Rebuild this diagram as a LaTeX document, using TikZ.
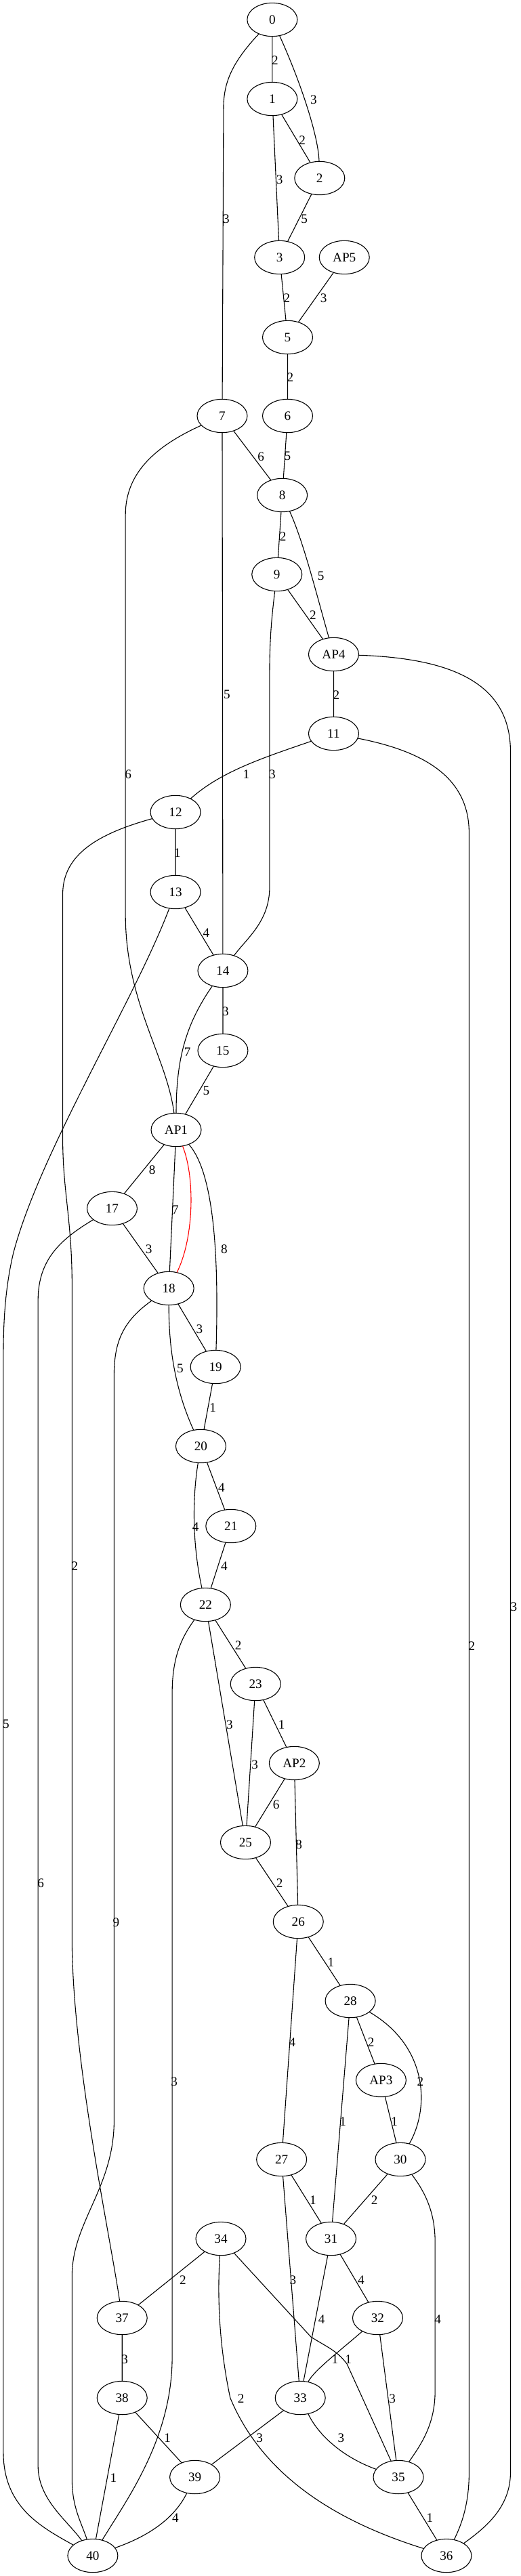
\documentclass[tikz,border=0pt]{standalone}
\usepackage{fontspec}
\setmainfont{Liberation Serif}
\usetikzlibrary{shapes.geometric}

\begin{document}
\begin{tikzpicture}[x=0.719pt, y=-0.73pt, line join=round, line cap=round,
  station/.style={ellipse, draw, line width=0.8pt, minimum width=54pt, minimum height=36pt, inner sep=0pt, font=\fontsize{14}{14}\selectfont},
  link/.style={line width=0.8pt},
  wt/.style={inner sep=0pt, font=\fontsize{14}{14}\selectfont}]
  % ========================================================
  % 0. CANVAS (same size as the original render)
  % ========================================================
  \useasboundingbox (0,0) rectangle (780.7,3803);
  \fill[white] (0,0) rectangle (780.7,3803);

  % ========================================================
  % 1. STATIONS (one row per rank)
  % ========================================================
  \node[station] (n0)   at (408,29)   {0};
  \node[station] (n1)   at (408,146)  {1};
  \node[station] (n2)   at (479,263)  {2};
  \node[station] (n3)   at (419,380)  {3};
  \node[station] (nAP5) at (516,380)  {AP5};
  \node[station] (n5)   at (431,498)  {5};
  \node[station] (n7)   at (333,614)  {7};
  \node[station] (n6)   at (431,614)  {6};
  \node[station] (n8)   at (423,731)  {8};
  \node[station] (n9)   at (415,848)  {9};
  \node[station] (nAP4) at (500,966)  {AP4};
  \node[station] (n11)  at (500,1083) {11};
  \node[station] (n12)  at (263,1199) {12};
  \node[station] (n13)  at (263,1317) {13};
  \node[station] (n14)  at (334,1433) {14};
  \node[station] (n15)  at (334,1551) {15};
  \node[station] (nAP1) at (264,1668) {AP1};
  \node[station] (n17)  at (168,1784) {17};
  \node[station] (n18)  at (253,1902) {18};
  \node[station] (n19)  at (323,2018) {19};
  \node[station] (n20)  at (301,2135) {20};
  \node[station] (n21)  at (346,2253) {21};
  \node[station] (n22)  at (308,2369) {22};
  \node[station] (n23)  at (383,2486) {23};
  \node[station] (nAP2) at (441,2603) {AP2};
  \node[station] (n25)  at (368,2720) {25};
  \node[station] (n26)  at (447,2837) {26};
  \node[station] (n28)  at (525,2954) {28};
  \node[station] (nAP3) at (571,3071) {AP3};
  \node[station] (n27)  at (422,3188) {27};
  \node[station] (n30)  at (600,3188) {30};
  \node[station] (n34)  at (331,3305) {34};
  \node[station] (n31)  at (496,3305) {31};
  \node[station] (n37)  at (183,3422) {37};
  \node[station] (n32)  at (566,3422) {32};
  \node[station] (n38)  at (183,3540) {38};
  \node[station] (n33)  at (450,3540) {33};
  \node[station] (n39)  at (292,3657) {39};
  \node[station] (n35)  at (597,3657) {35};
  \node[station] (n40)  at (139,3773) {40};
  \node[station] (n36)  at (669,3773) {36};

  % ========================================================
  % 2. SHORT LINKS (straight)
  % ========================================================
  \draw[link] (n0)--(n1) (n1)--(n2) (n1)--(n3) (n2)--(n3);
  \draw[link] (n3)--(n5) (nAP5)--(n5) (n5)--(n6) (n6)--(n8) (n7)--(n8) (n7)--(n14);
  \draw[link] (n8)--(n9) (n9)--(nAP4) (nAP4)--(n11) (n12)--(n13) (n13)--(n14) (n14)--(n15);
  \draw[link] (n15)--(nAP1) (nAP1)--(n17) (nAP1)--(n18) (n17)--(n18) (n18)--(n19) (n19)--(n20);
  \draw[link] (n20)--(n21) (n21)--(n22) (n22)--(n23) (n22)--(n25) (n23)--(nAP2) (n23)--(n25);
  \draw[link] (nAP2)--(n25) (nAP2)--(n26) (n25)--(n26) (n26)--(n28) (n26)--(n27);
  \draw[link] (n28)--(nAP3) (n28)--(n31) (nAP3)--(n30) (n27)--(n31) (n27)--(n33) (n30)--(n31);
  \draw[link] (n34)--(n37) (n31)--(n33) (n31)--(n32) (n32)--(n35) (n37)--(n38);
  \draw[link] (n38)--(n40) (n38)--(n39) (n33)--(n39) (n35)--(n36);

  % ========================================================
  % 3. LONG / BENT LINKS
  % ========================================================
  \draw[link] (n0) .. controls (450,120) and (477,200) .. (n2);
  \draw[link] (n0) .. controls (345,95) and (335,125) .. (335,160) -- (n7);
  \draw[link] (n7) .. controls (230,660) and (188,700) .. (188,760) -- (188,1350)
    .. controls (188,1480) and (250,1560) .. (nAP1);
  \draw[link] (n8) .. controls (455,800) and (475,880) .. (nAP4);
  \draw[link] (n9) .. controls (406,920) and (404,950) .. (404,1000) -- (404,1310)
    .. controls (404,1360) and (370,1385) .. (n14);
  \draw[link] (nAP4) .. controls (680,972) and (765,1010) .. (765,1110) -- (765,3650)
    .. controls (765,3700) and (730,3730) .. (n36);
  \draw[link] (n11) .. controls (640,1110) and (703,1150) .. (703,1230) -- (703,3650)
    .. controls (703,3700) and (690,3730) .. (n36);
  \draw[link] (n11) .. controls (390,1120) and (330,1140) .. (n12);
  \draw[link] (n12) .. controls (150,1230) and (94,1260) .. (94,1320) -- (94,1680)
    .. controls (94,1760) and (108,1800) .. (108,1900) -- (108,2870)
    .. controls (110,3050) and (165,3300) .. (n37);
  \draw[link] (n13) .. controls (200,1480) and (60,1700) .. (20,1850)
    .. controls (8,1900) and (5,1950) .. (5,2000) -- (5,3620)
    .. controls (5,3700) and (60,3730) .. (n40);
  \draw[link] (n14) .. controls (280,1510) and (264,1560) .. (nAP1);
  \draw[link] (nAP1) .. controls (310,1720) and (330,1800) .. (n19);
  \draw[link, red] (nAP1) .. controls (293,1740) and (290,1830) .. (n18);
  \draw[link] (n17) .. controls (90,1830) and (57,1860) .. (57,1920) -- (57,3640)
    .. controls (57,3690) and (100,3720) .. (n40);
  \draw[link] (n18) .. controls (253,1990) and (262,2050) .. (n20);
  \draw[link] (n18) .. controls (185,1950) and (171,1980) .. (171,2030) -- (171,3130)
    .. controls (171,3230) and (108,3280) .. (108,3360) -- (108,3660)
    .. controls (108,3700) and (120,3720) .. (n40);
  \draw[link] (n20) .. controls (290,2200) and (286,2270) .. (n22);
  \draw[link] (n22) .. controls (270,2420) and (258,2450) .. (258,2500) -- (258,3480)
    .. controls (258,3600) and (190,3690) .. (n40);
  \draw[link] (n28) .. controls (640,3020) and (645,3110) .. (n30);
  \draw[link] (n30) .. controls (640,3240) and (652,3270) .. (652,3310) -- (652,3530)
    .. controls (652,3580) and (630,3610) .. (n35);
  \draw[link] (n34) .. controls (325,3400) and (330,3470) .. (345,3540)
    .. controls (400,3670) and (530,3730) .. (n36);
  \draw[link] (n34) -- (466,3450) .. controls (490,3465) and (505,3470) .. (520,3490) -- (n35);
  \draw[link] (n32) .. controls (510,3470) and (470,3500) .. (n33);
  \draw[link] (n33) .. controls (480,3600) and (520,3630) .. (n35);
  \draw[link] (n39) .. controls (260,3720) and (220,3745) .. (n40);

  % ========================================================
  % 4. WEIGHTS
  % ========================================================
  \node[wt] (w0-1)    at (412,89)   {2};
  \node[wt] (w0-2)    at (470,147)  {3};
  \node[wt] (w1-2)    at (453,207)  {2};
  \node[wt] (w1-3)    at (419,265)  {3};
  \node[wt] (w2-3)    at (456,323)  {5};
  \node[wt] (w0-7)    at (339,323)  {3};
  \node[wt] (w3-5)    at (430,440)  {2};
  \node[wt] (wAP5-5)  at (485,440)  {3};
  \node[wt] (w5-6)    at (435,557)  {2};
  \node[wt] (w7-8)    at (391,674)  {6};
  \node[wt] (w6-8)    at (431,673)  {5};
  \node[wt] (w8-9)    at (424,792)  {2};
  \node[wt] (w8-AP4)  at (481,850)  {5};
  \node[wt] (w9-AP4)  at (469,908)  {2};
  \node[wt] (w7-14)   at (340,1025) {5};
  \node[wt] (wAP4-11) at (504,1026) {2};
  \node[wt] (w7-AP1)  at (192,1143) {6};
  \node[wt] (w11-12)  at (369,1143) {1};
  \node[wt] (w9-14)   at (408,1143) {3};
  \node[wt] (w12-13)  at (266,1259) {1};
  \node[wt] (w13-14)  at (309,1377) {4};
  \node[wt] (w14-15)  at (338,1493) {3};
  \node[wt] (w14-AP1) at (281,1553) {7};
  \node[wt] (w15-AP1) at (309,1610) {5};
  \node[wt] (wAP1-17) at (228,1727) {8};
  \node[wt] (wAP1-18) at (263,1786) {7};
  \node[wt] (wAP1-19) at (336,1844) {8};
  \node[wt] (w17-18)  at (223,1844) {3};
  \node[wt] (w18-19)  at (299,1962) {3};
  \node[wt] (w18-20)  at (270,2020) {5};
  \node[wt] (w19-20)  at (319,2078) {1};
  \node[wt] (w20-21)  at (332,2196) {4};
  \node[wt] (w20-22)  at (293,2254) {4};
  \node[wt] (w21-22)  at (336,2312) {4};
  \node[wt] (w12-37)  at (112,2312) {2};
  \node[wt] (wAP4-36) at (770,2372) {3};
  \node[wt] (w22-23)  at (357,2429) {2};
  \node[wt] (w11-36)  at (707,2430) {2};
  \node[wt] (w22-25)  at (344,2546) {3};
  \node[wt] (w23-AP2) at (422,2546) {1};
  \node[wt] (w13-40)  at (9,2545)   {5};
  \node[wt] (w23-25)  at (382,2605) {3};
  \node[wt] (wAP2-25) at (414,2664) {6};
  \node[wt] (wAP2-26) at (448,2723) {8};
  \node[wt] (w17-40)  at (61,2780)  {6};
  \node[wt] (w25-26)  at (419,2780) {2};
  \node[wt] (w18-40)  at (174,2838) {9};
  \node[wt] (w26-28)  at (496,2897) {1};
  \node[wt] (w26-27)  at (438,3015) {4};
  \node[wt] (w28-AP3) at (556,3015) {2};
  \node[wt] (w22-40)  at (261,3073) {3};
  \node[wt] (w28-30)  at (630,3073) {2};
  \node[wt] (w28-31)  at (514,3132) {1};
  \node[wt] (wAP3-30) at (591,3132) {1};
  \node[wt] (w27-31)  at (469,3248) {1};
  \node[wt] (w30-31)  at (561,3248) {2};
  \node[wt] (w34-37)  at (274,3366) {2};
  \node[wt] (w27-33)  at (439,3366) {3};
  \node[wt] (w31-32)  at (541,3366) {4};
  \node[wt] (w31-33)  at (482,3424) {4};
  \node[wt] (w30-35)  at (656,3424) {4};
  \node[wt] (w37-38)  at (187,3483) {3};
  \node[wt] (w32-33)  at (502,3483) {1};
  \node[wt] (w34-35)  at (522,3483) {1};
  \node[wt] (w34-36)  at (361,3541) {2};
  \node[wt] (w32-35)  at (588,3541) {3};
  \node[wt] (w38-39)  at (251,3599) {1};
  \node[wt] (w33-39)  at (389,3599) {3};
  \node[wt] (w33-35)  at (511,3599) {3};
  \node[wt] (w38-40)  at (170,3658) {1};
  \node[wt] (w39-40)  at (263,3717) {4};
  \node[wt] (w35-36)  at (644,3717) {1};

\end{tikzpicture}
\end{document}
